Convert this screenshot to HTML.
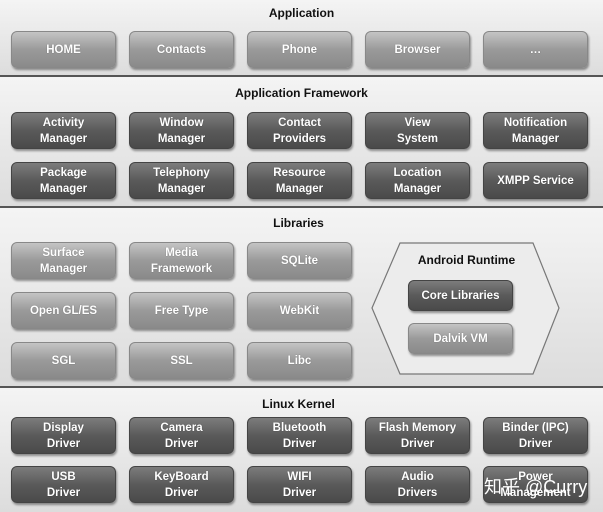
<!DOCTYPE html>
<html><head><meta charset="utf-8"><style>
body{margin:0;width:603px;height:512px;position:relative;overflow:hidden;background:#fff;font-family:"Liberation Sans",Arial,sans-serif}
.band{position:absolute;left:0;width:603px;background:linear-gradient(#f4f4f4,#dcdcdc);border-top:2px solid #555;box-sizing:border-box}
.t{position:absolute;left:0;width:603px;text-align:center;font-size:12px;font-weight:bold;color:#111}
.b{position:absolute;width:105px;height:37px;border-radius:6px;color:#fff;font-size:11.5px;font-weight:bold;display:flex;align-items:center;justify-content:center;text-align:center;line-height:16px;box-shadow:1px 2px 2px rgba(0,0,0,.4);box-sizing:border-box;text-shadow:0 0 1px rgba(0,0,0,.4)}
.l{background:linear-gradient(#c4c4c4,#9a9a9a 50%,#8a8a8a);border:1px solid #888}
.d{background:linear-gradient(#7c7c7c,#5a5a5a 50%,#4a4a4a);border:1px solid #444}
</style></head><body>
<div class="band" style="top:0;height:77px;border-top:none"></div>
<div class="band" style="top:75px;height:133px"></div>
<div class="band" style="top:206px;height:182px"></div>
<div class="band" style="top:386px;height:126px"></div>
<div class="t" style="top:6px">Application</div>
<div class="t" style="top:86px">Application Framework</div>
<div class="t" style="top:216px;left:-3px">Libraries</div>
<div class="t" style="top:397px;left:-3px">Linux Kernel</div>

<div class="b l" style="left:11px;top:31px">HOME</div>
<div class="b l" style="left:129px;top:31px">Contacts</div>
<div class="b l" style="left:247px;top:31px">Phone</div>
<div class="b l" style="left:365px;top:31px">Browser</div>
<div class="b l" style="left:483px;top:31px">…</div>

<div class="b d" style="left:11px;top:112px">Activity<br>Manager</div>
<div class="b d" style="left:129px;top:112px">Window<br>Manager</div>
<div class="b d" style="left:247px;top:112px">Contact<br>Providers</div>
<div class="b d" style="left:365px;top:112px">View<br>System</div>
<div class="b d" style="left:483px;top:112px">Notification<br>Manager</div>
<div class="b d" style="left:11px;top:162px">Package<br>Manager</div>
<div class="b d" style="left:129px;top:162px">Telephony<br>Manager</div>
<div class="b d" style="left:247px;top:162px">Resource<br>Manager</div>
<div class="b d" style="left:365px;top:162px">Location<br>Manager</div>
<div class="b d" style="left:483px;top:162px">XMPP Service</div>

<div class="b l" style="left:11px;top:242px">Surface<br>Manager</div>
<div class="b l" style="left:129px;top:242px">Media<br>Framework</div>
<div class="b l" style="left:247px;top:242px">SQLite</div>
<div class="b l" style="left:11px;top:292px">Open GL/ES</div>
<div class="b l" style="left:129px;top:292px">Free Type</div>
<div class="b l" style="left:247px;top:292px">WebKit</div>
<div class="b l" style="left:11px;top:342px">SGL</div>
<div class="b l" style="left:129px;top:342px">SSL</div>
<div class="b l" style="left:247px;top:342px">Libc</div>

<svg style="position:absolute;left:0;top:0" width="603" height="512"><polygon points="372,308 400,243 533,243 559,308 533,374 400,374" fill="#ececec" stroke="#777" stroke-width="1.2"/></svg>
<div class="t" style="top:253px;left:165px">Android Runtime</div>
<div class="b d" style="left:408px;top:280px;height:31px">Core Libraries</div>
<div class="b l" style="left:408px;top:323px;height:31px">Dalvik VM</div>

<div class="b d" style="left:11px;top:417px">Display<br>Driver</div>
<div class="b d" style="left:129px;top:417px">Camera<br>Driver</div>
<div class="b d" style="left:247px;top:417px">Bluetooth<br>Driver</div>
<div class="b d" style="left:365px;top:417px">Flash Memory<br>Driver</div>
<div class="b d" style="left:483px;top:417px">Binder (IPC)<br>Driver</div>
<div class="b d" style="left:11px;top:466px">USB<br>Driver</div>
<div class="b d" style="left:129px;top:466px">KeyBoard<br>Driver</div>
<div class="b d" style="left:247px;top:466px">WIFI<br>Driver</div>
<div class="b d" style="left:365px;top:466px">Audio<br>Drivers</div>
<div class="b d" style="left:483px;top:466px">Power<br>Management</div>
<div style="position:absolute;left:484px;top:473px;color:#fff;font-size:18px;font-family:'Liberation Sans','Noto Sans CJK SC',sans-serif;white-space:nowrap">知乎 @Curry</div>
</body></html>
